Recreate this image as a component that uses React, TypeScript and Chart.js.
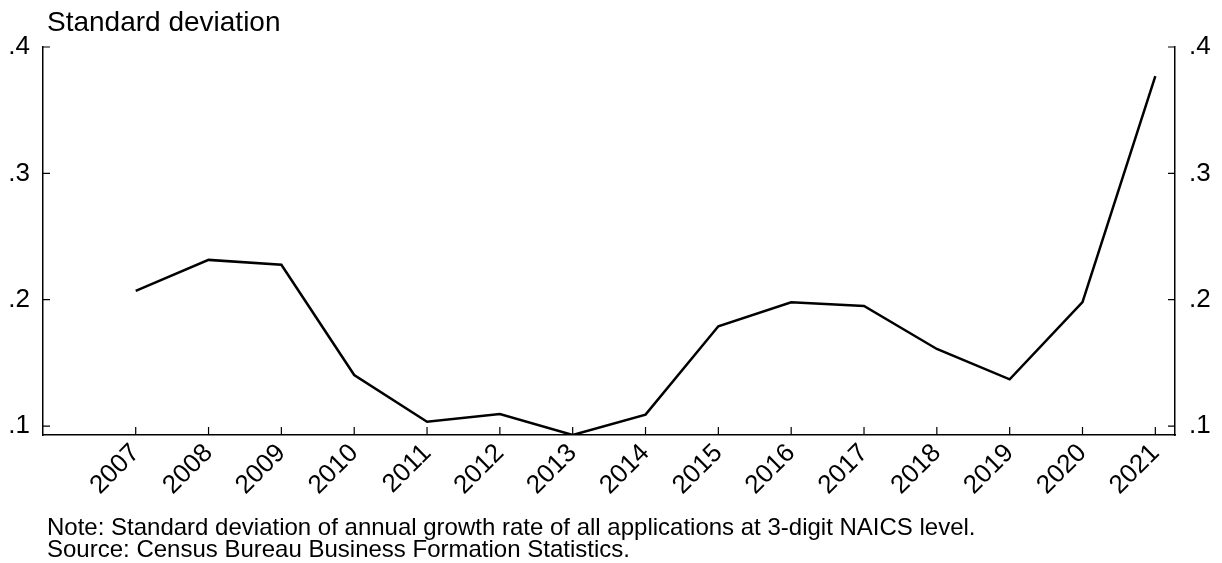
import React, { useEffect, useRef } from "react";
import { Chart, registerables } from "chart.js";

Chart.register(...registerables);

const years = [2007, 2008, 2009, 2010, 2011, 2012, 2013, 2014, 2015, 2016, 2017, 2018, 2019, 2020, 2021];
const stdDev = [0.207, 0.2315, 0.2276, 0.1404, 0.1034, 0.1095, 0.0929, 0.109, 0.179, 0.198, 0.195, 0.161, 0.137, 0.198, 0.377];
const yTickValues = [0.1, 0.2, 0.3, 0.4];
const yTickLabels = [".1", ".2", ".3", ".4"];
const titleText = "Standard deviation";
const noteLines = [
  "Note: Standard deviation of annual growth rate of all applications at 3-digit NAICS level.",
  "Source: Census Bureau Business Formation Statistics.",
];

const X_MIN = 2005.727;
const X_MAX = 2021.27;
const Y_MIN = 0.0929;
const Y_MAX = 0.4;
const FONT = '"Liberation Sans", Arial, Helvetica, sans-serif';

const decorPlugin = {
  id: "decor",
  afterDraw(chart: any) {
    const ctx = chart.ctx as CanvasRenderingContext2D;
    const { x, y, y2 } = chart.scales;
    ctx.save();
    ctx.strokeStyle = "#000";
    ctx.lineWidth = 1.2;
    ctx.beginPath();
    yTickValues.forEach((v) => {
      const p1 = y.getPixelForValue(v);
      ctx.moveTo(y.right, p1);
      ctx.lineTo(y.right + 7, p1);
      const p2 = y2.getPixelForValue(v);
      ctx.moveTo(y2.left, p2);
      ctx.lineTo(y2.left - 7, p2);
    });
    years.forEach((v) => {
      const px = x.getPixelForValue(v);
      ctx.moveTo(px, x.top);
      ctx.lineTo(px, x.top - 8);
    });
    ctx.stroke();
    ctx.fillStyle = "#000";
    ctx.textAlign = "left";
    ctx.textBaseline = "alphabetic";
    ctx.font = `28px ${FONT}`;
    ctx.fillText(titleText, 47, 31);
    ctx.font = `24px ${FONT}`;
    noteLines.forEach((t, i) => ctx.fillText(t, 47, 535 + i * 21.5));
    ctx.restore();
  },
};

export default function App() {
  const ref = useRef<HTMLCanvasElement | null>(null);
  useEffect(() => {
    if (!ref.current) return;
    const tickFont = { family: FONT, size: 26 };
    const chart = new Chart(ref.current, {
      type: "line",
      data: {
        datasets: [
          {
            data: years.map((yr, i) => ({ x: yr, y: stdDev[i] })),
            borderColor: "#000",
            borderWidth: 2.5,
            pointRadius: 0,
            tension: 0,
            fill: false,
          },
        ],
      },
      options: {
        animation: false,
        responsive: false,
        layout: { padding: { top: 47, left: 0, right: 0, bottom: 0 } },
        plugins: { legend: { display: false }, tooltip: { enabled: false }, title: { display: false } },
        scales: {
          x: {
            type: "linear",
            min: X_MIN,
            max: X_MAX,
            afterBuildTicks: (s: any) => {
              s.ticks = years.map((v) => ({ value: v }));
            },
            afterFit: (s: any) => {
              s.height = 128;
            },
            grid: { display: false, drawTicks: false },
            border: { display: true, color: "#000", width: 1.5 },
            ticks: {
              autoSkip: false,
              minRotation: 45,
              maxRotation: 45,
              padding: 3,
              color: "#000",
              font: tickFont,
              callback: (v: any) => String(v),
            },
          },
          y: {
            type: "linear",
            position: "left",
            min: Y_MIN,
            max: Y_MAX,
            afterBuildTicks: (s: any) => {
              s.ticks = yTickValues.map((v) => ({ value: v }));
            },
            afterFit: (s: any) => {
              s.width = 43;
            },
            grid: { display: false, drawTicks: false },
            border: { display: true, color: "#000", width: 1.5 },
            ticks: {
              padding: 13,
              color: "#000",
              font: tickFont,
              callback: (v: any) => yTickLabels[yTickValues.indexOf(Math.round(Number(v) * 10) / 10)] ?? "",
            },
          },
          y2: {
            type: "linear",
            position: "right",
            min: Y_MIN,
            max: Y_MAX,
            afterBuildTicks: (s: any) => {
              s.ticks = yTickValues.map((v) => ({ value: v }));
            },
            afterFit: (s: any) => {
              s.width = 47;
            },
            grid: { display: false, drawTicks: false },
            border: { display: true, color: "#000", width: 1.5 },
            ticks: {
              padding: 14,
              color: "#000",
              font: tickFont,
              callback: (v: any) => yTickLabels[yTickValues.indexOf(Math.round(Number(v) * 10) / 10)] ?? "",
            },
          },
        },
      },
      plugins: [decorPlugin],
    });
    return () => chart.destroy();
  }, []);
  return (
    <div style={{ position: "fixed", left: 0, top: 0, width: 1222, height: 563, background: "#fff" }}>
      <canvas ref={ref} width={1222} height={563} style={{ display: "block" }} />
    </div>
  );
}
